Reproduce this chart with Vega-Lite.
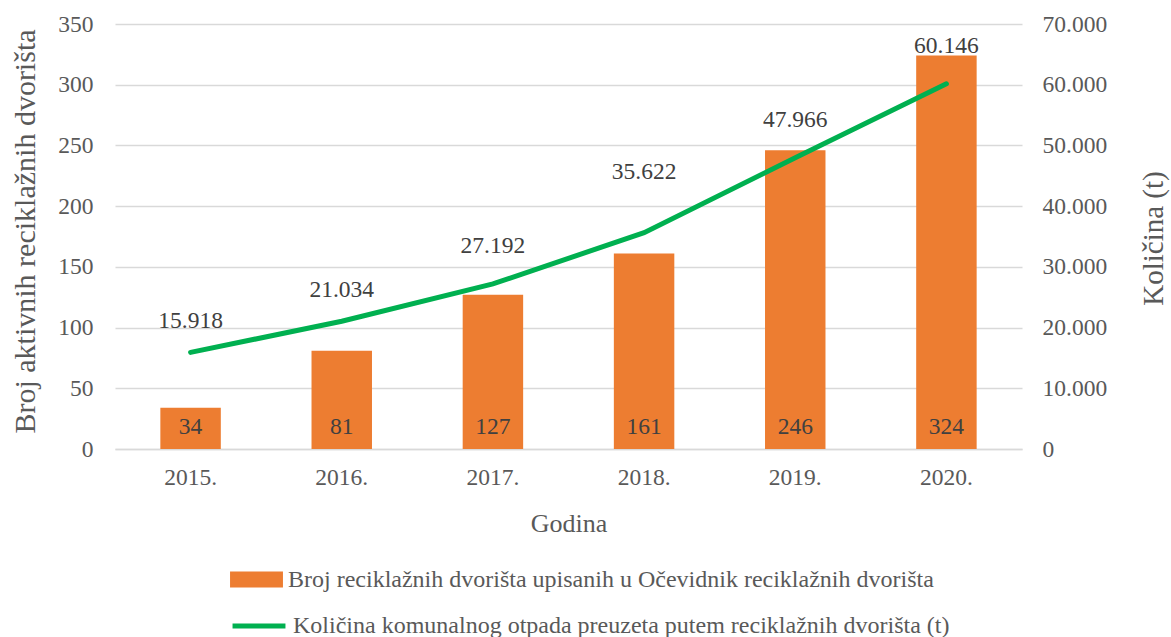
{
  "$schema": "https://vega.github.io/schema/vega-lite/v6.json",
  "width": 907,
  "height": 425,
  "autosize": "none",
  "padding": {"left": 115, "top": 24, "right": 149, "bottom": 188},
  "config": {
    "view": {"stroke": null},
    "font": "Liberation Serif",
    "locale": {"number": {"decimal": ",", "thousands": ".", "grouping": [3], "currency": ["", ""]}},
    "axis": {"labelFont": "Liberation Serif", "titleFont": "Liberation Serif", "labelFontSize": 23.5, "titleFontSize": 28, "labelColor": "#595959", "titleColor": "#595959", "titleFontWeight": "normal", "ticks": false, "domain": false, "gridColor": "#d9d9d9", "gridWidth": 1.5, "labelOverlap": false},
    "legend": {"labelFont": "Liberation Serif", "labelFontSize": 24, "labelColor": "#595959", "orient": "none", "title": null, "padding": 0, "labelLimit": 0}
  },
  "data": {"values": [
    {"Godina": "2015.", "Broj": 34, "Kolicina": 15918},
    {"Godina": "2016.", "Broj": 81, "Kolicina": 21034},
    {"Godina": "2017.", "Broj": 127, "Kolicina": 27192},
    {"Godina": "2018.", "Broj": 161, "Kolicina": 35622},
    {"Godina": "2019.", "Broj": 246, "Kolicina": 47966},
    {"Godina": "2020.", "Broj": 324, "Kolicina": 60146}
  ]},
  "encoding": {
    "x": {"field": "Godina", "type": "nominal", "sort": null,
      "scale": {"paddingInner": 0.6, "paddingOuter": 0.3},
      "axis": {"title": "Godina", "titleFontSize": 26, "labelAngle": 0, "labelPadding": 16, "titlePadding": 22, "grid": false, "domain": true, "domainColor": "#d9d9d9", "domainWidth": 1.5}}
  },
  "layer": [
    {
      "encoding": {
        "y": {"field": "Broj", "type": "quantitative", "scale": {"domain": [0, 350]},
          "axis": {"title": "Broj aktivnih reciklažnih dvorišta", "titleFontSize": 30, "values": [0,50,100,150,200,250,300,350], "labelPadding": 22, "titleAngle": 270, "titleX": -90, "titleY": 207, "titleBaseline": "middle", "titleAlign": "center", "grid": true}}
      },
      "layer": [
        {
          "mark": {"type": "bar"},
          "encoding": {
            "color": {"datum": "Broj reciklažnih dvorišta upisanih u Očevidnik reciklažnih dvorišta", "type": "nominal",
              "scale": {"range": ["#ED7D31"]},
              "legend": {"legendX": 115, "legendY": 529, "symbolType": "M-1,-0.3H1V0.3H-1Z", "symbolSize": 2800, "symbolStrokeWidth": 0, "labelOffset": 5, "symbolOpacity": 1}}
          }
        },
        {
          "mark": {"type": "text", "fontSize": 23.5, "color": "#404040", "dy": -22, "baseline": "middle"},
          "encoding": {
            "y": {"datum": 0, "type": "quantitative", "scale": {"domain": [0, 350]},
              "axis": {"title": "Broj aktivnih reciklažnih dvorišta", "titleFontSize": 30, "values": [0,50,100,150,200,250,300,350], "labelPadding": 22, "titleAngle": 270, "titleX": -90, "titleY": 207, "titleBaseline": "middle", "titleAlign": "center", "grid": true}},
            "text": {"field": "Broj", "type": "quantitative"}
          }
        }
      ]
    },
    {
      "encoding": {
        "y": {"field": "Kolicina", "type": "quantitative", "scale": {"domain": [0, 70000]},
          "axis": {"orient": "right", "title": "Količina (t)", "titleFontSize": 29, "titleAngle": 270, "titleX": 131, "titleY": 214, "titleBaseline": "middle", "titleAlign": "center", "values": [0,10000,20000,30000,40000,50000,60000,70000], "format": ",.0f", "labelPadding": 20, "grid": false}}
      },
      "layer": [
        {
          "mark": {"type": "line", "strokeWidth": 5, "strokeCap": "round"},
          "encoding": {
            "stroke": {"datum": "Količina komunalnog otpada preuzeta putem reciklažnih dvorišta (t)", "type": "nominal",
              "scale": {"range": ["#00B050"]},
              "legend": {"legendX": 115, "legendY": 573, "symbolType": "stroke", "symbolSize": 2800, "symbolStrokeWidth": 5, "labelOffset": 5}}
          }
        },
        {
          "transform": [{"filter": "datum.Godina == '2015.' || datum.Godina == '2016.'"}],
          "mark": {"type": "text", "fontSize": 23.5, "color": "#404040", "dy": -31, "baseline": "middle"},
          "encoding": {
            "text": {"field": "Kolicina", "type": "quantitative", "format": ",.0f"}
          }
        },
        {
          "transform": [{"filter": "datum.Godina == '2017.' || datum.Godina == '2019.' || datum.Godina == '2020.'"}],
          "mark": {"type": "text", "fontSize": 23.5, "color": "#404040", "dy": -38, "baseline": "middle"},
          "encoding": {
            "text": {"field": "Kolicina", "type": "quantitative", "format": ",.0f"}
          }
        },
        {
          "transform": [{"filter": "datum.Godina == '2018.'"}],
          "mark": {"type": "text", "fontSize": 23.5, "color": "#404040", "dy": -61, "baseline": "middle"},
          "encoding": {
            "text": {"field": "Kolicina", "type": "quantitative", "format": ",.0f"}
          }
        }
      ]
    }
  ],
  "resolve": {"scale": {"y": "independent"}}
}
